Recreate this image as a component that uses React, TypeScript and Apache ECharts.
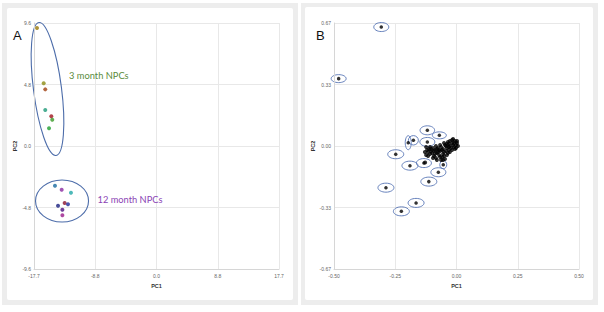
import React, { useEffect, useRef } from "react";
import * as echarts from "echarts";

// Panel A: PCA scores (3 month NPCs then 12 month NPCs)
const pcaAX = [-17.27, -16.3, -16.07, -16.07, -15.2, -15.06, -15.53, -14.67, -13.7, -12.36, -13.27, -12.79, -14.23, -13.6, -13.6];
const pcaAY = [9.21, 4.89, 4.42, 2.81, 2.32, 2.05, 1.38, -3.1, -3.41, -3.65, -4.45, -4.55, -4.66, -4.97, -5.41];
const pcaAColors = ["#9a7b0a", "#8c8c14", "#a04010", "#1e9a78", "#a0141e", "#3a9a28", "#20a030", "#1a6aa0", "#8a2aa0", "#20a8a8", "#8a1430", "#1e2a98", "#1a2080", "#4a1080", "#9a1a8a"];

// Panel B: circled outliers and the central cluster
const outX = [-0.307, -0.481, -0.119, -0.07, -0.176, -0.197, -0.119, -0.248, -0.19, -0.133, -0.054, -0.074, -0.113, -0.288, -0.165, -0.225];
const outY = [0.648, 0.367, 0.0855, 0.058, 0.031, 0.018, 0.022, -0.045, -0.107, -0.093, -0.102, -0.143, -0.194, -0.227, -0.31, -0.356];
const outRx = [7.5, 7.5, 7.3, 7, 5, 3, 7.5, 8, 8, 7.5, 3.5, 7.5, 8, 8, 8, 8];
const outRy = [4.5, 4, 4.5, 3.5, 4.7, 7, 4.5, 4.5, 4.5, 4.5, 4, 4.5, 4.5, 4.5, 4.5, 4.5];
const clusterX = [-0.006, -0.014, -0.018, -0.002, -0.027, -0.035, -0.01, -0.039, -0.047, -0.055, -0.063, -0.051, -0.067, -0.076, -0.08, -0.088, -0.096, -0.104, -0.112, -0.12, -0.108, -0.092, -0.071, -0.059, -0.047, -0.063, -0.084, -0.1, -0.043, -0.031, -0.022, 0.002, 0.006, -0.014, -0.084, -0.071, -0.124, -0.129, -0.116, -0.055, -0.039, -0.027, -0.006, -0.031, -0.051, -0.128,
  -0.018, 0.002, -0.01, -0.031, -0.043, -0.059, -0.076, -0.092, -0.104, -0.116, -0.124, -0.096, -0.08, -0.067, -0.051, -0.035, -0.018, -0.002, -0.027, -0.039, -0.067, -0.08, -0.088, -0.108, -0.055];
const clusterY = [0.027, 0.038, 0.016, 0.005, 0.0, 0.022, -0.005, -0.011, 0.005, -0.016, -0.005, -0.033, -0.027, -0.011, -0.038, -0.022, -0.011, -0.027, -0.016, -0.022, -0.044, -0.054, -0.049, -0.06, -0.071, -0.076, -0.065, -0.038, -0.027, -0.022, -0.011, 0.016, 0.0, 0.005, 0.0, -0.022, -0.005, -0.033, -0.054, -0.044, -0.049, -0.033, -0.016, 0.011, 0.016, -0.09,
  0.033, 0.027, 0.016, -0.005, 0.0, -0.022, -0.033, -0.027, -0.016, -0.033, -0.049, -0.065, -0.076, -0.06, -0.054, -0.038, -0.022, -0.011, 0.027, 0.011, 0.005, -0.016, -0.044, -0.005, -0.076];

const xTicksA = ["-17.7", "-8.8", "0.0", "8.8", "17.7"];
const yTicksA = ["-9.6", "-4.8", "0.0", "4.8", "9.6"];
const xTicksB = ["-0.50", "-0.25", "0.00", "0.25", "0.50"];
const yTicksB = ["-0.67", "-0.33", "0.00", "0.33", "0.67"];

// group ellipses (panel A), data coordinates for centres
const groupEllipses = [
  { cx: -15.75, cy: 4.45, rx: 14, ry: 67, rot: 0.128 },
  { cx: -13.65, cy: -4.29, rx: 26.5, ry: 21, rot: 0 },
];

const FONT = "Liberation Sans, Arial, sans-serif";

function makeAxis(dim: "x" | "y", gridIndex: number, min: number, interval: number, labels: string[], name: string) {
  return {
    type: "value",
    gridIndex,
    min,
    max: -min,
    interval,
    name,
    nameLocation: "middle",
    nameGap: dim === "x" ? 14 : 15,
    nameTextStyle: { fontSize: 5.5, fontWeight: "bold", color: "#333", fontFamily: FONT },
    axisLine: { show: true, onZero: false, lineStyle: { color: "#d6d6d6", width: 1 } },
    axisTick: { show: false },
    axisLabel: {
      fontSize: 5,
      color: "#666",
      fontFamily: FONT,
      margin: dim === "x" ? 4 : 3,
      formatter: (v: number) => labels[Math.round((v - min) / interval)] ?? "",
    },
    splitLine: { show: true, lineStyle: { color: "#e8e8e8", width: 1 } },
  };
}

export default function App() {
  const ref = useRef<HTMLDivElement>(null);
  useEffect(() => {
    if (!ref.current) return;
    const chart = echarts.init(ref.current, undefined, { renderer: "svg" });
    chart.setOption({
      animation: false,
      backgroundColor: "transparent",
      grid: [
        { left: 34, right: 325, top: 23, bottom: 43 },
        { left: 334, right: 25, top: 23, bottom: 43 },
      ],
      xAxis: [
        makeAxis("x", 0, -17.7, 8.85, xTicksA, "PC1"),
        makeAxis("x", 1, -0.5, 0.25, xTicksB, "PC1"),
      ],
      yAxis: [
        makeAxis("y", 0, -9.6, 4.8, yTicksA, "PC2"),
        makeAxis("y", 1, -0.67, 0.335, yTicksB, "PC2"),
      ],
      series: [
        {
          type: "scatter",
          xAxisIndex: 0,
          yAxisIndex: 0,
          symbolSize: 4,
          data: pcaAX.map((x, i) => ({ value: [x, pcaAY[i]], itemStyle: { color: pcaAColors[i] } })),
        },
        {
          type: "scatter",
          xAxisIndex: 1,
          yAxisIndex: 1,
          symbolSize: 3.5,
          itemStyle: { color: "#000" },
          data: outX.map((x, i) => [x, outY[i]]),
        },
        {
          type: "scatter",
          xAxisIndex: 1,
          yAxisIndex: 1,
          symbolSize: 4,
          itemStyle: { color: "#000" },
          data: clusterX.map((x, i) => [x, clusterY[i]]),
        },
      ],
    });

    const graphics: any[] = [];
    groupEllipses.forEach((e) => {
      const [px, py] = chart.convertToPixel({ seriesIndex: 0 }, [e.cx, e.cy]) as number[];
      graphics.push({
        type: "ellipse",
        x: px,
        y: py,
        rotation: e.rot,
        shape: { cx: 0, cy: 0, rx: e.rx, ry: e.ry },
        style: { fill: "none", stroke: "#4d6daa", lineWidth: 1.1 },
        silent: true,
      });
    });
    outX.forEach((x, i) => {
      const [px, py] = chart.convertToPixel({ seriesIndex: 1 }, [x, outY[i]]) as number[];
      graphics.push({
        type: "ellipse",
        shape: { cx: px, cy: py, rx: outRx[i], ry: outRy[i] },
        style: { fill: "none", stroke: "#5674b4", lineWidth: 0.9 },
        silent: true,
      });
    });
    graphics.push(
      { type: "text", left: 13, top: 29, style: { text: "A", fontSize: 13, fill: "#111", fontFamily: FONT } },
      { type: "text", left: 316, top: 29, style: { text: "B", fontSize: 13, fill: "#111", fontFamily: FONT } },
      { type: "text", left: 69, top: 70.5, style: { text: "3 month NPCs", fontSize: 9.3, fill: "#5b8c3c", fontFamily: "Lato, sans-serif" } },
      { type: "text", left: 97.5, top: 194.5, style: { text: "12 month NPCs", fontSize: 9.3, fill: "#8b45b5", fontFamily: "Lato, sans-serif" } }
    );
    chart.setOption({ graphic: graphics });
    return () => chart.dispose();
  }, []);

  const frame = (left: number, top: number, w: number, h: number) => (
    <div style={{ position: "absolute", left, top, width: w, height: h, background: "#ededed" }} />
  );
  const inner = (left: number, top: number, w: number, h: number) => (
    <div style={{ position: "absolute", left, top, width: w, height: h, background: "#ffffff", borderRadius: 2 }} />
  );

  return (
    <div style={{ position: "absolute", left: 0, top: 0, width: 604, height: 312, background: "#fff", overflow: "hidden" }}>
      {frame(2, 3, 296, 302)}
      {inner(7, 8, 286, 292)}
      {frame(301, 3, 297, 302)}
      {inner(305, 7, 288, 293)}
      <div ref={ref} style={{ position: "absolute", left: 0, top: 0, width: 604, height: 312 }} />
    </div>
  );
}
